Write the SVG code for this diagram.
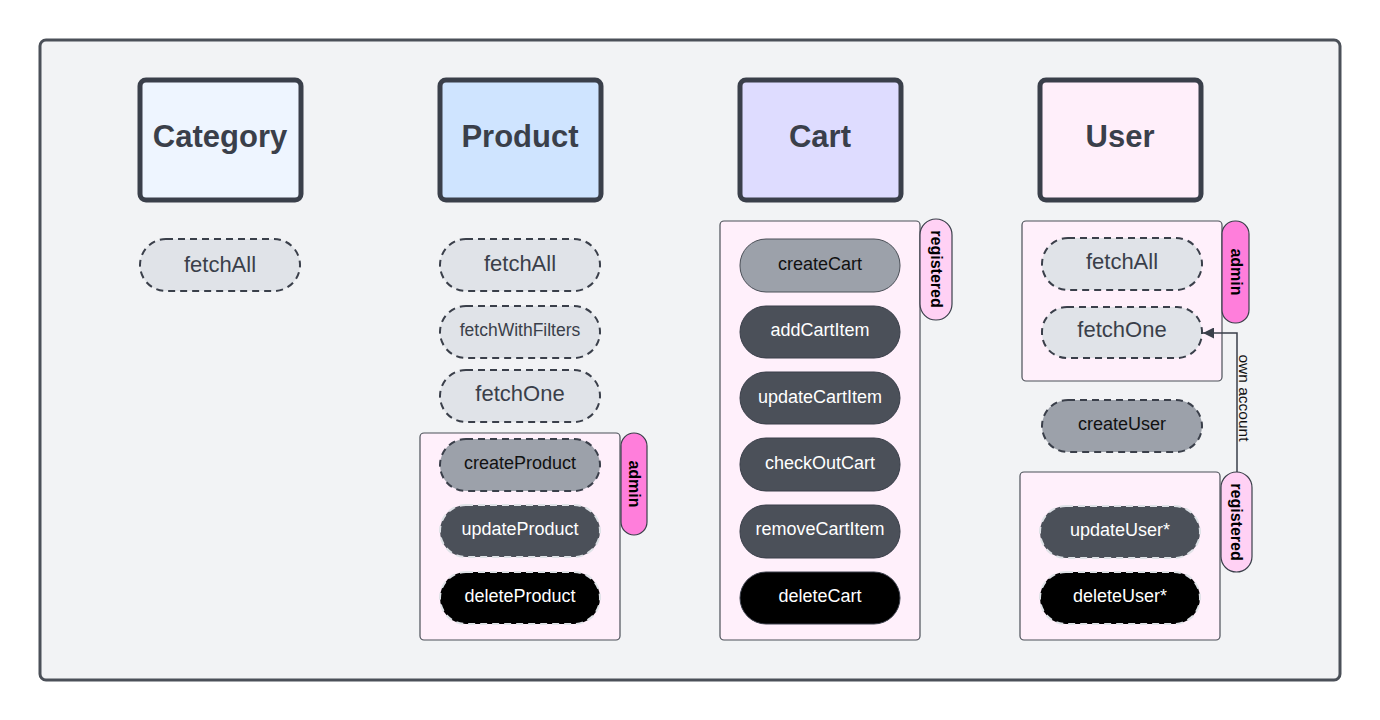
<svg xmlns="http://www.w3.org/2000/svg" width="1380" height="720" viewBox="0 0 1380 720">
<defs>
<style>
text{font-family:"Liberation Sans",Arial,sans-serif;text-anchor:middle;dominant-baseline:central}
.hdr{stroke:#3a3f4a;stroke-width:5}
.hdrt{font-size:31px;font-weight:bold;fill:#3a3f4a}
.lp{fill:#e0e3e8;stroke:#3a3f4a;stroke-width:2;stroke-dasharray:7 5}
.lt{font-size:22px;fill:#3a3f4a}
.lts{font-size:17.5px;fill:#3a3f4a}
.gpd{fill:#9ca1aa;stroke:#3a3f4a;stroke-width:2;stroke-dasharray:7 5}
.gps{fill:#9ca1aa;stroke:#4b5058;stroke-width:1}
.gt{font-size:18px;fill:#111}
.dpd{fill:#4b5059;stroke:#dfe2e7;stroke-width:2;stroke-dasharray:7 5}
.dps{fill:#4b5059;stroke:#3a3f4a;stroke-width:1}
.bpd{fill:#000;stroke:#dfe2e7;stroke-width:2;stroke-dasharray:7 5}
.bps{fill:#000;stroke:#3a3f4a;stroke-width:1}
.wt{font-size:18px;fill:#fff}
.grp{fill:#fff0fb;stroke:#4b5058;stroke-width:1.2}
.adm{fill:#ff7edb;stroke:#3a3f4a;stroke-width:1.2}
.reg{fill:#ffd1f4;stroke:#3a3f4a;stroke-width:1.2}
.tagt{font-size:16px;font-weight:bold;fill:#000}
</style>
<marker id="ah" viewBox="0 0 10 10" refX="10" refY="5" markerWidth="11" markerHeight="11" markerUnits="userSpaceOnUse" orient="auto">
<path d="M0,0 L10,5 L0,10 z" fill="#3a3f4a"/>
</marker>
</defs>
<rect x="0" y="0" width="1380" height="720" fill="#ffffff"/>
<rect id="frame" x="40" y="40" width="1300" height="640" rx="6" fill="#f2f3f5" stroke="#4b5058" stroke-width="3"/>

<g id="category">
<rect class="hdr" x="140" y="80" width="161" height="120" rx="6" fill="#eef5ff"/>
<text class="hdrt" x="220" y="136">Category</text>
</g>
<g id="category-fetchAll">
<rect class="lp" x="140" y="239" width="160" height="52" rx="26"/>
<text class="lt" x="220" y="264">fetchAll</text>
</g>

<g id="product">
<rect class="hdr" x="440" y="80" width="161" height="120" rx="6" fill="#cfe4ff"/>
<text class="hdrt" x="520" y="136">Product</text>
</g>
<g id="product-fetchAll">
<rect class="lp" x="440" y="239" width="160" height="52" rx="26"/>
<text class="lt" x="520" y="263">fetchAll</text>
</g>
<g id="product-fetchWithFilters">
<rect class="lp" x="440" y="306" width="160" height="52" rx="26"/>
<text class="lts" x="520" y="330">fetchWithFilters</text>
</g>
<g id="product-fetchOne">
<rect class="lp" x="440" y="370" width="160" height="52" rx="26"/>
<text class="lt" x="520" y="393">fetchOne</text>
</g>
<g id="product-admin">
<rect class="grp" x="420" y="433" width="200" height="207" rx="4"/>
<rect class="adm" x="621" y="433" width="26" height="102" rx="13"/>
<text class="tagt" transform="translate(634,484) rotate(90)">admin</text>
</g>
<g id="product-createProduct">
<rect class="gpd" x="440" y="439" width="160" height="52" rx="26"/>
<text class="gt" x="520" y="463">createProduct</text>
</g>
<g id="product-updateProduct">
<rect class="dpd" x="440" y="505" width="160" height="52" rx="26"/>
<text class="wt" x="520" y="529">updateProduct</text>
</g>
<g id="product-deleteProduct">
<rect class="bpd" x="440" y="572" width="160" height="52" rx="26"/>
<text class="wt" x="520" y="596">deleteProduct</text>
</g>

<g id="cart">
<rect class="hdr" x="740" y="80" width="161" height="120" rx="6" fill="#dedcff"/>
<text class="hdrt" x="820" y="136">Cart</text>
</g>
<g id="cart-registered">
<rect class="grp" x="720" y="221" width="200" height="419" rx="4"/>
<rect class="reg" x="920" y="219" width="32" height="101" rx="16"/>
<text class="tagt" transform="translate(936,269) rotate(90)">registered</text>
</g>
<g id="cart-createCart">
<rect class="gps" x="740" y="239" width="160" height="53" rx="26"/>
<text class="gt" x="820" y="264">createCart</text>
</g>
<g id="cart-addCartItem">
<rect class="dps" x="740" y="306" width="160" height="52" rx="26"/>
<text class="wt" x="820" y="330">addCartItem</text>
</g>
<g id="cart-updateCartItem">
<rect class="dps" x="740" y="372" width="160" height="52" rx="26"/>
<text class="wt" x="820" y="397">updateCartItem</text>
</g>
<g id="cart-checkOutCart">
<rect class="dps" x="740" y="438" width="160" height="53" rx="26"/>
<text class="wt" x="820" y="463">checkOutCart</text>
</g>
<g id="cart-removeCartItem">
<rect class="dps" x="740" y="505" width="160" height="53" rx="26"/>
<text class="wt" x="820" y="529">removeCartItem</text>
</g>
<g id="cart-deleteCart">
<rect class="bps" x="740" y="572" width="160" height="52" rx="26"/>
<text class="wt" x="820" y="596">deleteCart</text>
</g>

<g id="user">
<rect class="hdr" x="1040" y="80" width="161" height="120" rx="6" fill="#ffeffa"/>
<text class="hdrt" x="1120" y="136">User</text>
</g>
<g id="user-admin">
<rect class="grp" x="1022" y="221" width="200" height="160" rx="4"/>
<rect class="adm" x="1222" y="221" width="27" height="102" rx="13"/>
<text class="tagt" transform="translate(1236,272) rotate(90)">admin</text>
</g>
<g id="user-fetchAll">
<rect class="lp" x="1042" y="238" width="160" height="52" rx="26"/>
<text class="lt" x="1122" y="261">fetchAll</text>
</g>
<g id="user-fetchOne">
<rect class="lp" x="1042" y="307" width="160" height="51" rx="25"/>
<text class="lt" x="1122" y="329">fetchOne</text>
</g>
<g id="user-createUser">
<rect class="gpd" x="1042" y="400" width="160" height="52" rx="26"/>
<text class="gt" x="1122" y="424">createUser</text>
</g>
<g id="user-registered">
<rect class="grp" x="1020" y="472" width="200" height="168" rx="4"/>
<rect class="reg" x="1221" y="472" width="31" height="100" rx="15.5"/>
<text class="tagt" transform="translate(1236,522) rotate(90)">registered</text>
</g>
<g id="user-updateUser">
<rect class="dpd" x="1040" y="506" width="160" height="52" rx="26"/>
<text class="wt" x="1120" y="530">updateUser*</text>
</g>
<g id="user-deleteUser">
<rect class="bpd" x="1040" y="572" width="160" height="52" rx="26"/>
<text class="wt" x="1120" y="596">deleteUser*</text>
</g>

<g id="connectors">
<path d="M1237,472 L1237,333 L1203,333" fill="none" stroke="#3a3f4a" stroke-width="1.5" marker-end="url(#ah)"/>
<text transform="translate(1244,398) rotate(90)" style="font-size:15.5px;fill:#111">own account</text>
</g>
</svg>
